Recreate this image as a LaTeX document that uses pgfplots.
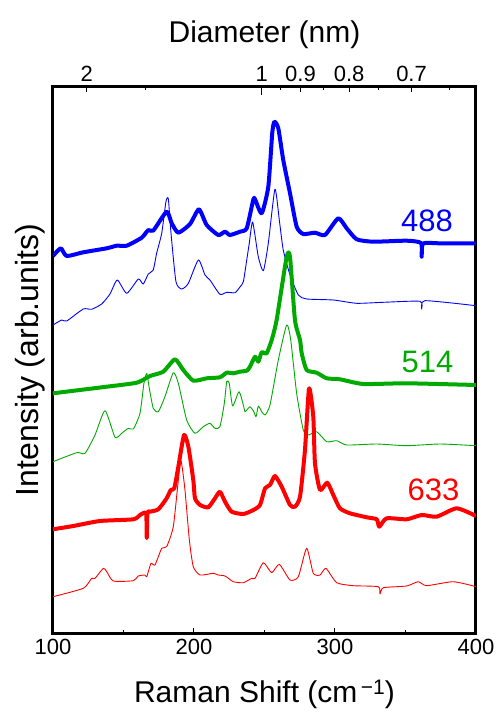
\documentclass[border=0pt]{standalone}
\usepackage{pgfplots}
\pgfplotsset{compat=1.18}
\usepackage{fontspec}
\setmainfont{Liberation Sans}

\definecolor{specblue}{RGB}{0,0,255}
\definecolor{specgreen}{RGB}{0,170,0}
\definecolor{specred}{RGB}{255,0,0}

\newcommand\ticksize{\fontsize{22}{26}\selectfont}
\newcommand\labsize{\fontsize{30}{36}\selectfont}
\newcommand\tagsize{\fontsize{31}{36}\selectfont}

\pgfplotsset{
  spectrum frame/.style={
    scale only axis, width=423pt, height=546pt,
    xmin=100, xmax=400, ymin=0, ymax=546,
    tick align=inside,
    major tick length=5pt, minor tick length=3pt,
    tick style={black, line width=1pt},
    ytick=\empty,
    /pgf/number format/assume math mode=true,
    ticklabel style={font=\ticksize},
    label style={font=\labsize},
  },
  thickline/.style={line width=4pt, line join=round, smooth, tension=0.35},
  thinline/.style={line width=0.9pt, line join=round, smooth, tension=0.35},
}

\begin{document}
\begin{tikzpicture}
\path[use as bounding box] (-53pt,-83pt) rectangle (449pt,633pt);

% Raman spectra, lower axis in cm^-1
\begin{axis}[
  spectrum frame,
  axis line style={line width=3pt},
  xtick={100,200,300,400},
  minor xtick={150,250,350},
  xtick pos=left, xticklabel pos=left,
  xticklabel style={yshift=-3pt},
  xlabel={Raman Shift (cm\raisebox{0.5ex}{\fontsize{21}{24}\selectfont\,−1})},
  xlabel style={at={(axis description cs:0.5,-0.1264)}, anchor=base},
  ylabel={Intensity (arb.units)},
  ylabel style={at={(axis description cs:-0.0331,0.5)}, anchor=base, font=\fontsize{32}{36}\selectfont},
]

% 488 nm, thick
\addplot[specblue, thickline] coordinates {
(100,377) (105.5,384.7) (109.7,377) (121.5,380.7) (138.1,384.7) (145.2,387.3)
(152.3,387.3) (162.9,395.3) (167.6,403) (171.1,402.3) (180.6,421.3) (184.2,409.7)
(188.9,400.3) (197.2,409) (203.5,423.7) (209,408) (217.2,398) (222,401.3)
(225.5,398) (232.6,401.3) (237.4,404.7) (242.1,433.7) (243.3,433.7) (248,419.7)
(252.7,446.3) (255.5,500) (257,511.3) (259.8,504.7) (263.3,473) (268.1,439.7)
(272.8,406.3) (277.5,399) (285.8,400.3) (292.9,398) (302.3,414.7) (308.3,404.7)
(315.4,393.7) (327.2,391.3) (350.8,392.3) (361,390) (361.5,376.3) (362.4,389.5)
(374.5,389.7) (400,389.7)
};
% 488 nm, thin
\addplot[specblue, thinline] coordinates {
(100,308) (106.2,313) (109.7,312) (121.5,324) (127.4,323.7) (134.5,329)
(140.4,339) (145.6,353) (152.3,339.7) (160.5,354) (164,349) (167.6,359)
(171.1,363) (173.5,379.7) (177.1,399.7) (180.1,431.3) (181.8,434) (183.7,399.7)
(187.2,351.3) (191.3,344) (196,349.7) (203.1,373) (207.8,358) (211.3,353)
(218.4,338.7) (223.2,340.7) (229.1,340.3) (232.6,346) (235,351.3) (237.4,373)
(239.2,389.7) (241.6,411) (245.6,376.3) (249.2,362.3) (252.7,389.7) (257.4,443.7)
(260.5,413) (263.3,383) (268.1,358) (274,338) (279.9,334) (298.8,333)
(315.4,329.7) (334.3,330.7) (360.3,331.7) (361.5,323.7) (363.8,332.3) (400,327.3)
};
% 514 nm, thick
\addplot[specgreen, thickline] coordinates {
(100,239.7) (119.1,243) (138.1,246.3) (159.4,250.3) (168.8,257) (178.2,261.3)
(186.5,273.7) (192.4,263) (199.5,252.3) (209,254.7) (218.4,255.7) (223.2,260.3)
(227.9,259.7) (232.6,261.3) (237.4,262.3) (239.7,266.3) (243.3,276.3) (245.6,271.3)
(248,280.7) (251.5,279.7) (255.1,293) (258.6,313) (265.7,376) (268.1,376)
(271.6,313) (275.2,293) (276.4,279.7) (279.9,263) (287,260.3) (294.1,254.7)
(303.5,253.7) (320.1,249) (350.8,249.7) (400,248)
};
% 514 nm, thin
\addplot[specgreen, thinline] coordinates {
(100,171.3) (116.8,180.3) (122.7,179.7) (129.8,198) (136.9,222.3) (144,195.7)
(148.7,199.7) (153.4,204.7) (157,204) (161.7,219.7) (164.5,249.7) (166.5,259.7)
(168.3,244.7) (171.1,224.7) (174.7,221.3) (179.4,236.3) (185.3,260.3) (188.9,249.7)
(194.8,213) (200.7,199.7) (206.6,206.3) (211.3,209.7) (214.9,204.7) (218.4,206.3)
(221.5,229.7) (223.2,251.3) (225,249.7) (227.4,227) (231.9,241.3) (235,228)
(236.2,221.3) (238.5,224.7) (239.7,226.3) (242.1,222.3) (244,216.3) (245.6,227)
(248,221.3) (250.4,218) (253.9,228) (259.8,273) (265.7,308) (268.6,293)
(272.8,239.7) (277.5,203) (281.1,198) (287,201.3) (294.1,191.3) (301.2,192.3)
(308.3,188) (329.6,189) (350.8,187.3) (374.5,189) (400,187.3)
};
% 633 nm, thick
\addplot[specred, thickline] coordinates {
(100,103.7) (114.4,107) (133.3,112) (157,113.7) (161.7,118) (166,119.7)
(166.5,95) (167,120.5) (168.8,121.3) (174.7,123.7) (180.6,134.7) (183.5,143)
(186,144.7) (188.9,166.3) (192.9,198) (196,186.3) (199.5,153) (200.7,134.7)
(204.3,128) (210.1,125.7) (214.9,134.7) (218.4,141.3) (222,131.3) (226.7,121.3)
(235,119) (242.1,123) (246.8,128) (250.4,144.7) (253.9,148) (257.4,157)
(262.2,146.3) (268.1,128) (271.6,126.3) (275.2,136.3) (278.7,183) (281.6,244.7)
(284.6,216.3) (285.8,169.7) (289.4,143) (294.5,150.3) (298.8,138) (303.5,124.7)
(310.6,119.7) (322.5,115.7) (329.6,113.7) (331.4,106.3) (336.6,114.7) (350.8,113.7)
(361.5,118) (372.1,116.3) (386.3,124.7) (400,117)
};
% 633 nm, thin
\addplot[specred, thinline] coordinates {
(100,36.3) (121.5,44.7) (127.4,54.7) (129.8,54.7) (135.7,64.7) (138.1,61.3)
(142.8,52) (157,52.3) (160.5,57) (165.2,58) (166.5,56.3) (169.5,69.7)
(172.3,68) (177.1,84.7) (180.6,86.3) (185.3,106.3) (188.9,153) (190.8,172.3)
(193.6,143) (196.7,93) (199.5,66.3) (204.3,58) (213.7,59.7) (217.2,58)
(222,57) (227.9,51.3) (235,50.3) (240.9,54.7) (243.3,54.7) (249.2,70.3)
(255.1,60.3) (260.5,68.7) (268.1,53) (274,56.3) (279.9,84.7) (284.6,59.7)
(289.4,58) (293.6,64.7) (301.2,50.3) (313,47.3) (330.7,46.3) (331.9,39)
(334.3,45.3) (350.8,47) (359,51.3) (365,47.3) (383.9,51.3) (400,46.3)
};

\node[anchor=base, text=specblue, font=\tagsize] at (axis cs:365.2,401) {488};
\node[anchor=base, text=specgreen, font=\tagsize] at (axis cs:365.6,261) {514};
\node[anchor=base, text=specred, font=\tagsize] at (axis cs:369.9,133) {633};
\end{axis}

% upper axis: tube diameter, d = 248/omega
\begin{axis}[
  spectrum frame,
  axis line style={draw=none},
  xtick pos=right, xticklabel pos=right,
  xtick={124,275.56,310,354.29},
  xticklabels={2,0.9,0.8,0.7},
  extra x ticks={248},
  extra x tick labels={1},
  extra x tick style={major tick length=8pt},
  minor xtick={165.33,261.05,291.76,330.67,381.54},
  xticklabel style={yshift=2pt},
  xlabel={Diameter (nm)},
  xlabel style={at={(axis description cs:0.5,1.0806)}, anchor=base},
]
\addplot[draw=none] coordinates {(100,0) (400,0)};
\end{axis}
\end{tikzpicture}
\end{document}
